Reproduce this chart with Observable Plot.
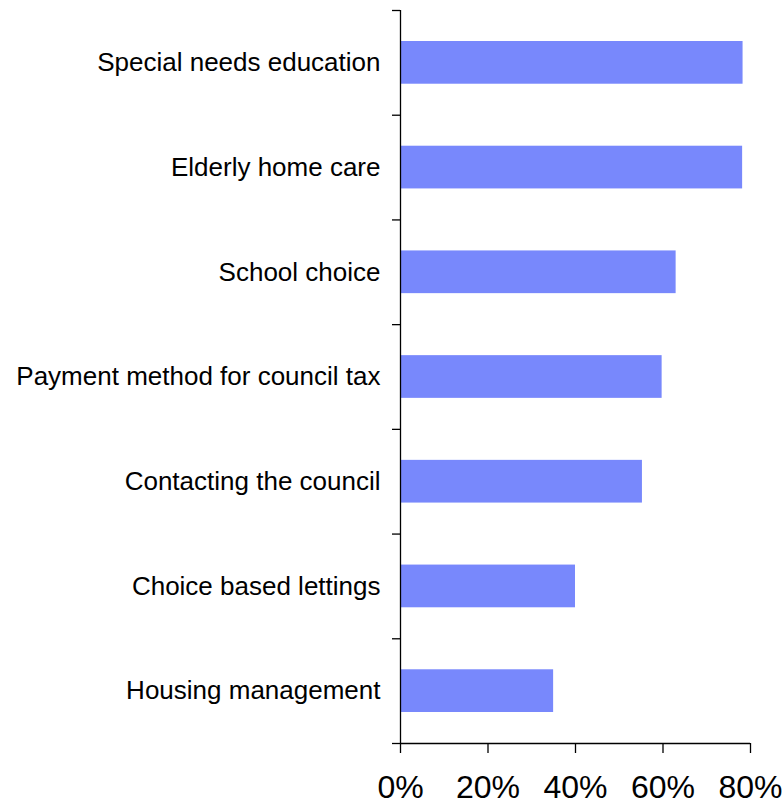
<!DOCTYPE html>
<html>
<head>
<meta charset="utf-8">
<script src="https://cdn.jsdelivr.net/npm/d3@7"></script>
<script src="https://cdn.jsdelivr.net/npm/@observablehq/plot@0.6"></script>
<style>
  html, body { margin: 0; padding: 0; background: white; }
</style>
</head>
<body>
<div id="chart"></div>
<script>
const categories = [
  "Special needs education",
  "Elderly home care",
  "School choice",
  "Payment method for council tax",
  "Contacting the council",
  "Choice based lettings",
  "Housing management"
];
const values = [0.783, 0.782, 0.63, 0.598, 0.553, 0.40, 0.35];
const xTicks = [0, 0.2, 0.4, 0.6, 0.8];

const n = categories.length;
const data = categories.map((c, i) => ({category: c, value: values[i], pos: n - 1 - i}));

const chart = Plot.plot({
  width: 783,
  height: 803,
  marginTop: 10,
  marginBottom: 60,
  marginLeft: 400,
  marginRight: 33,
  style: {fontFamily: "'Liberation Sans', Arial, sans-serif", color: "black", background: "white"},
  x: {domain: [0, 0.8], label: null},
  y: {domain: [0, n], label: null},
  marks: [
    Plot.rectX(data, {x1: 0, x2: "value", y1: "pos", y2: d => d.pos + 1, insetTop: 31, insetBottom: 31, fill: "#7888fc"}),
    Plot.ruleX([0], {stroke: "black", strokeWidth: 1.3}),
    Plot.ruleY([0], {stroke: "black", strokeWidth: 1.3}),
    Plot.axisY({ticks: d3.range(n + 1), tickSize: 8, tickFormat: () => "", strokeWidth: 1.3, label: null}),
    Plot.axisY({ticks: data.map(d => d.pos + 0.5), tickFormat: v => categories[n - 1 - (v - 0.5)], tickSize: 0, tickPadding: 20, fontSize: 26, label: null}),
    Plot.axisX({ticks: xTicks, tickFormat: d3.format(".0%"), tickSize: 10, tickPadding: 22, fontSize: 32, strokeWidth: 1.3, label: null})
  ]
});
document.getElementById("chart").append(chart);
</script>
</body>
</html>
